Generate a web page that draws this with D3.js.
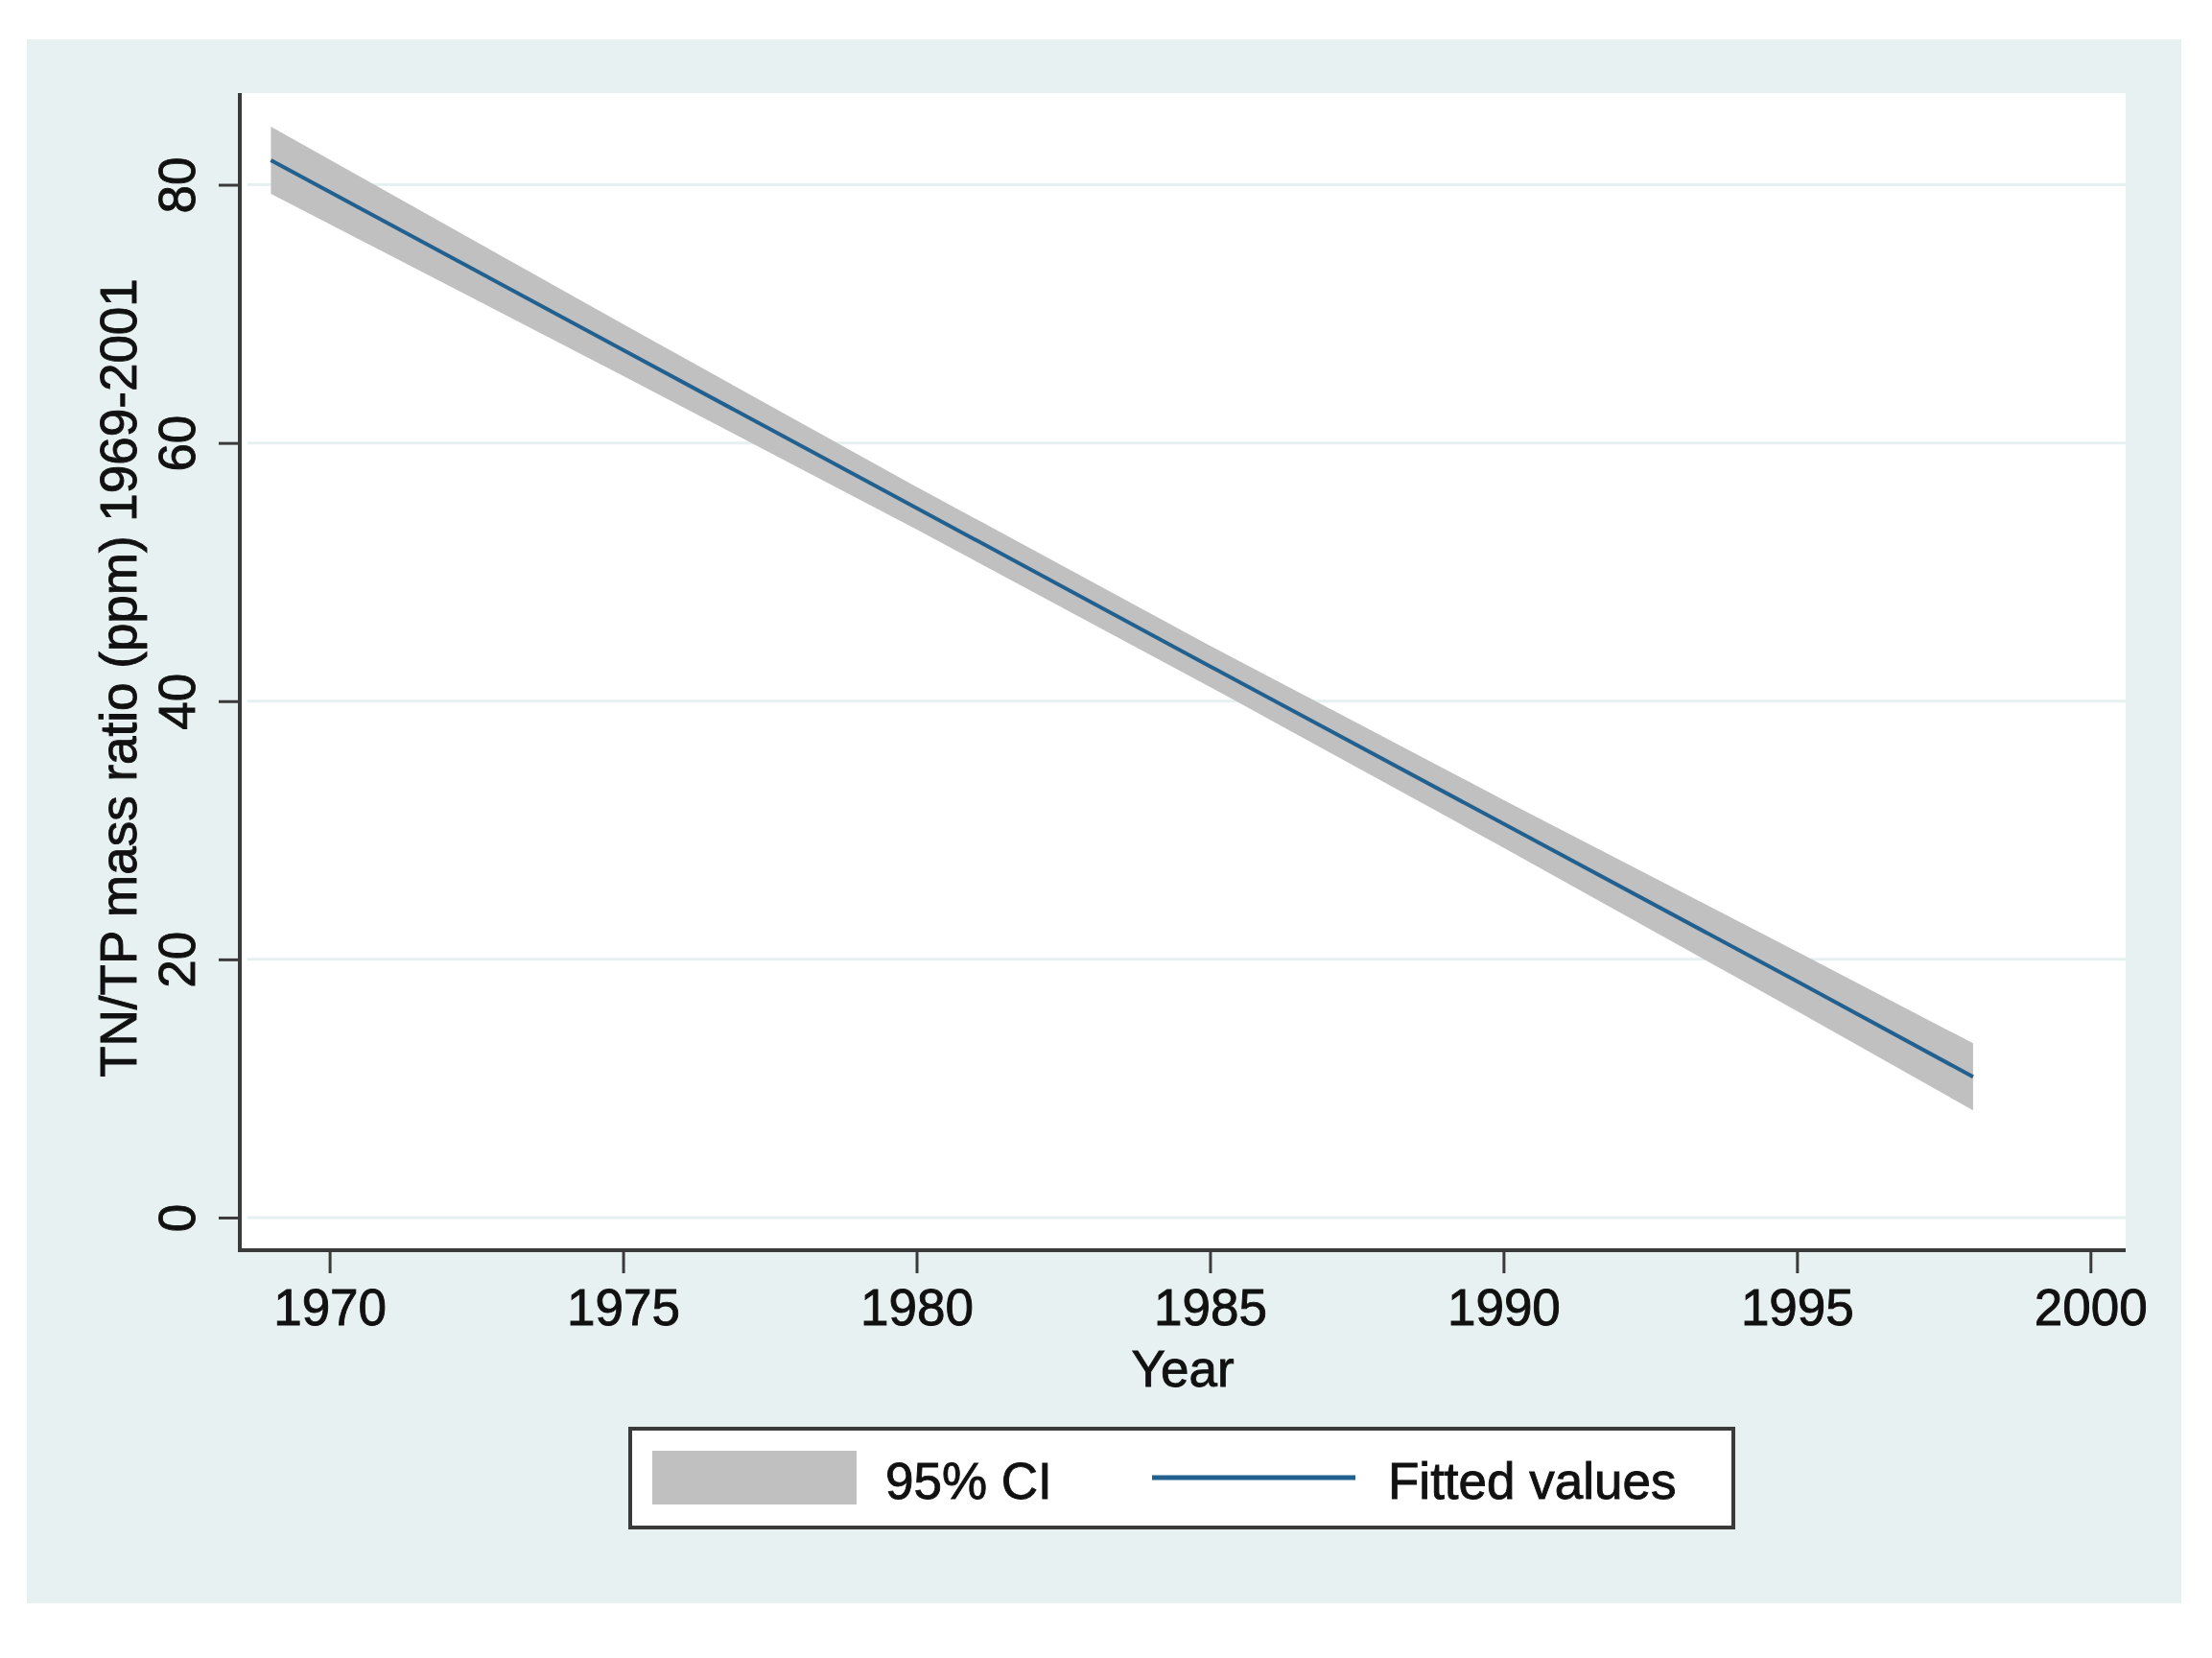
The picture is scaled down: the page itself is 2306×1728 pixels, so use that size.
<!DOCTYPE html>
<html>
<head>
<meta charset="utf-8">
<script src="https://cdn.jsdelivr.net/npm/d3@7/dist/d3.min.js"></script>
<style>
  html, body { margin: 0; padding: 0; background: #ffffff; }
  svg { display: block; }
  text { font-family: "Liberation Sans", Arial, Helvetica, sans-serif; fill: #111; stroke: #111; stroke-width: 0.9px; }
</style>
</head>
<body>
<svg id="chart" width="2306" height="1728"></svg>
<script>
// ---- data ----
const years  = [1969, 1975, 1980, 1985, 1990, 1995, 1998];
const fitted = [81.9, 67.2, 54.96, 42.7, 30.5, 18.3, 10.9];
const ciLow  = [79.3, 65.2, 53.3, 41.1, 28.65, 16.0, 8.3];
const ciHigh = [84.5, 69.2, 56.6, 44.3, 32.35, 20.6, 13.5];
const xTicks = [1970, 1975, 1980, 1985, 1990, 1995, 2000];
const yTicks = [0, 20, 40, 60, 80];
const yTitle = "TN/TP mass ratio (ppm) 1969-2001";
const xTitle = "Year";
const legendLabels = ["95% CI", "Fitted values"];

// ---- layout ----
const svg = d3.select("#chart");
const fontSize = 53;
const outer = {x0: 28, y0: 41, x1: 2274, y1: 1671};
const plot = {x0: 250, y0: 97, x1: 2216, y1: 1303};

const colBg = "#e8f1f2";
const colGrid = "#e6f0f1";
const colCI = "#c0c0c0";
const colLine = "#22608f";
const colAxis = "#3a3a3a";

svg.append("rect").attr("x", outer.x0).attr("y", outer.y0)
  .attr("width", outer.x1 - outer.x0).attr("height", outer.y1 - outer.y0)
  .attr("fill", colBg);

svg.append("rect").attr("x", plot.x0).attr("y", plot.y0)
  .attr("width", plot.x1 - plot.x0).attr("height", plot.y1 - plot.y0)
  .attr("fill", "#ffffff");

const x = d3.scaleLinear().domain([1968.47, 2000.6]).range([plot.x0, plot.x1]);
const y = d3.scaleLinear().domain([-2.53, 87.1]).range([plot.y1, plot.y0]);

// gridlines
svg.append("g").selectAll("line").data(yTicks).join("line")
  .attr("x1", plot.x0 + 8).attr("x2", plot.x1)
  .attr("y1", d => y(d)).attr("y2", d => y(d))
  .attr("stroke", colGrid).attr("stroke-width", 3);

// CI band
const rows = years.map((yr, i) => ({yr, f: fitted[i], lo: ciLow[i], hi: ciHigh[i]}));
const area = d3.area().x(d => x(d.yr)).y0(d => y(d.lo)).y1(d => y(d.hi));
svg.append("path").datum(rows).attr("d", area).attr("fill", colCI);

// fitted line
const line = d3.line().x(d => x(d.yr)).y(d => y(d.f));
svg.append("path").datum(rows).attr("d", line)
  .attr("fill", "none").attr("stroke", colLine).attr("stroke-width", 4);

// x axis
const xAxis = d3.axisBottom(x).tickValues(xTicks).tickFormat(d3.format("d"))
  .tickSizeInner(24).tickSizeOuter(0).tickPadding(16);
const gx = svg.append("g").attr("transform", `translate(0,${plot.y1})`).call(xAxis);
gx.select(".domain").attr("stroke", colAxis).attr("stroke-width", 4)
  .attr("d", `M${plot.x0 - 2},0H${plot.x1}`);
gx.selectAll(".tick line").attr("stroke", colAxis).attr("stroke-width", 3);
gx.selectAll(".tick text").attr("font-size", fontSize).attr("fill", "#111")
  .attr("font-family", "Liberation Sans, Arial, sans-serif");

// y axis
const yAxis = d3.axisLeft(y).tickValues(yTicks).tickFormat(d3.format("d"))
  .tickSizeInner(22).tickSizeOuter(0).tickPadding(0);
const gy = svg.append("g").attr("transform", `translate(${plot.x0},0)`).call(yAxis);
gy.select(".domain").attr("stroke", colAxis).attr("stroke-width", 4)
  .attr("d", `M0,${plot.y0}V${plot.y1 + 2}`);
gy.selectAll(".tick line").attr("stroke", colAxis).attr("stroke-width", 3);
gy.selectAll(".tick text")
  .attr("font-size", fontSize).attr("fill", "#111")
  .attr("font-family", "Liberation Sans, Arial, sans-serif")
  .attr("x", null).attr("dy", null)
  .attr("text-anchor", "middle")
  .attr("transform", "translate(-47,0) rotate(-90)");

// axis titles
svg.append("text").attr("x", (plot.x0 + plot.x1) / 2).attr("y", 1445)
  .attr("text-anchor", "middle").attr("font-size", fontSize).text(xTitle);
svg.append("text")
  .attr("transform", `translate(142,${(282 + 1131) / 2}) rotate(-90)`)
  .attr("text-anchor", "middle").attr("font-size", fontSize).text(yTitle);

// legend
const lg = svg.append("g");
lg.append("rect").attr("x", 657).attr("y", 1489).attr("width", 1150).attr("height", 103)
  .attr("fill", "#ffffff").attr("stroke", colAxis).attr("stroke-width", 4);
lg.append("rect").attr("x", 680).attr("y", 1512).attr("width", 213).attr("height", 56)
  .attr("fill", colCI);
lg.append("text").attr("x", 923).attr("y", 1562).attr("font-size", fontSize).text(legendLabels[0]);
lg.append("line").attr("x1", 1201).attr("x2", 1413).attr("y1", 1540).attr("y2", 1540)
  .attr("stroke", colLine).attr("stroke-width", 5);
lg.append("text").attr("x", 1447).attr("y", 1562).attr("font-size", fontSize).text(legendLabels[1]);
</script>
</body>
</html>
